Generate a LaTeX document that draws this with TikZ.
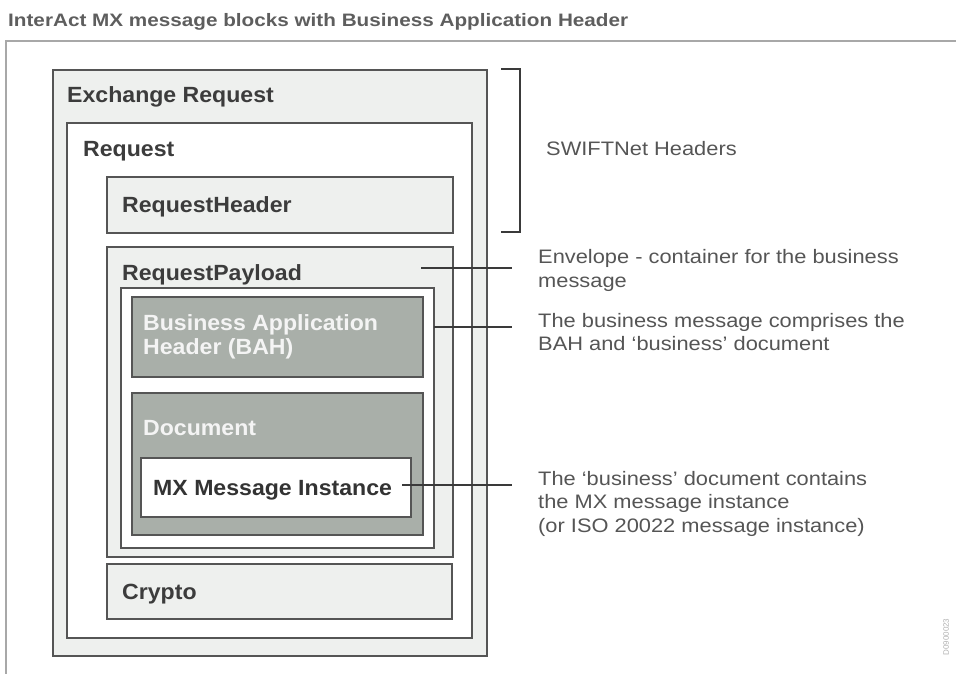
\documentclass[tikz,border=0pt]{standalone}
\usepackage{fontspec}
\setmainfont{Liberation Sans}
\newfontfamily\descfont[FakeStretch=1.12]{Liberation Sans}
\newfontfamily\boldfont[FakeStretch=1.05]{Liberation Sans Bold}
\newfontfamily\titlefont[FakeStretch=1.15]{Liberation Sans Bold}
\definecolor{lightfill}{HTML}{EEF0EE}
\definecolor{darkfill}{HTML}{A9AFA9}
\definecolor{bordc}{HTML}{555555}
\definecolor{connc}{HTML}{3A3A3A}
\definecolor{lblc}{HTML}{3C3C3C}
\definecolor{descc}{HTML}{555555}
\definecolor{titlec}{HTML}{5E5E5E}
\definecolor{whitec}{HTML}{F4F4F4}
\definecolor{framec}{HTML}{A8A8A8}
\tikzset{
  blk/.style={draw=bordc, line width=2.5pt, anchor=north west, inner sep=0pt, outer sep=0pt},
  lbl/.style={font=\fontsize{22}{26}\boldfont, text=lblc, anchor=base west, inner sep=0pt},
  wlbl/.style={lbl, text=whitec},
  desc/.style={font=\fontsize{19.5}{24}\descfont, text=descc, anchor=base west, inner sep=0pt},
  conn/.style={draw=connc, line width=1.8pt},
  framel/.style={draw=framec, line width=2pt}
}
\begin{document}
\begin{tikzpicture}[x=1pt,y=-1pt]
\useasboundingbox (0,0) rectangle (956,674);
% title and frame
\node[font=\fontsize{18}{22}\titlefont, text=titlec, anchor=base west, inner sep=0pt] (title) at (8,27) {InterAct MX message blocks with Business Application Header};
\coordinate (f1) at (956,41);
\coordinate (f2) at (6,41);
\coordinate (f3) at (6,674);
\draw[framel] (f1) -- (f2) -- (f3);
% boxes
\node[blk, fill=lightfill, minimum width=434pt, minimum height=586pt] (er) at (53,70) {};
\node[blk, fill=white, minimum width=405pt, minimum height=515pt] (req) at (67,123) {};
\node[blk, fill=lightfill, minimum width=346pt, minimum height=56pt] (rh) at (107,177) {};
\node[blk, fill=lightfill, minimum width=346pt, minimum height=310pt] (rp) at (107,247) {};
\node[blk, fill=white, minimum width=313pt, minimum height=260pt] (bm) at (121,288) {};
\node[blk, fill=darkfill, minimum width=291pt, minimum height=80pt] (bah) at (132,297) {};
\node[blk, fill=darkfill, minimum width=291pt, minimum height=142pt] (doc) at (132,393) {};
\node[blk, fill=white, minimum width=270pt, minimum height=59pt] (mx) at (141,458) {};
\node[blk, fill=lightfill, minimum width=345pt, minimum height=55pt] (cr) at (107,564) {};
% labels
\node[lbl] (ert) at (67,103) {Exchange Request};
\node[lbl] (reqt) at (83,157) {Request};
\node[lbl] (rht) at (122,212) {RequestHeader};
\node[lbl] (rpt) at (122,280) {RequestPayload};
\node[wlbl] (baht1) at (143,330) {Business Application};
\node[wlbl] (baht2) at (143,354) {Header (BAH)};
\node[wlbl] (doct) at (143,435) {Document};
\node[lbl, text=black!80] (mxt) at (153,495) {MX Message Instance};
\node[lbl] (crt) at (122,599) {Crypto};
% bracket
\coordinate (b1) at (501,69);
\coordinate (b2) at (520,69);
\coordinate (b3) at (520,232);
\coordinate (b4) at (501,232);
\draw[conn] (b1) -- (b2) -- (b3) -- (b4);
% descriptions
\node[desc] (sw) at (546,156) {SWIFTNet Headers};
\node[desc] (d1a) at (538,263) {Envelope - container for the business};
\node[desc] (d1b) at (538,287) {message};
\node[desc] (d2a) at (538,327) {The business message comprises the};
\node[desc] (d2b) at (538,350) {BAH and ‘business’ document};
\node[desc] (d3a) at (538,485) {The ‘business’ document contains};
\node[desc] (d3b) at (538,508) {the MX message instance};
\node[desc] (d3c) at (538,532) {(or ISO 20022 message instance)};
% connectors
\coordinate (c1) at (421,268);
\coordinate (e1) at (512,268);
\coordinate (c2) at (434,327);
\coordinate (e2) at (512,327);
\coordinate (c3) at (402,485);
\coordinate (e3) at (512,485);
\draw[conn] (c1) -- (e1);
\draw[conn] (c2) -- (e2);
\draw[conn] (c3) -- (e3);
% document id
\node[font=\fontsize{8}{9}\selectfont, text=black!30, rotate=90, anchor=center, inner sep=0pt] (docid) at (946,637) {D0900023};
\end{tikzpicture}
\end{document}
